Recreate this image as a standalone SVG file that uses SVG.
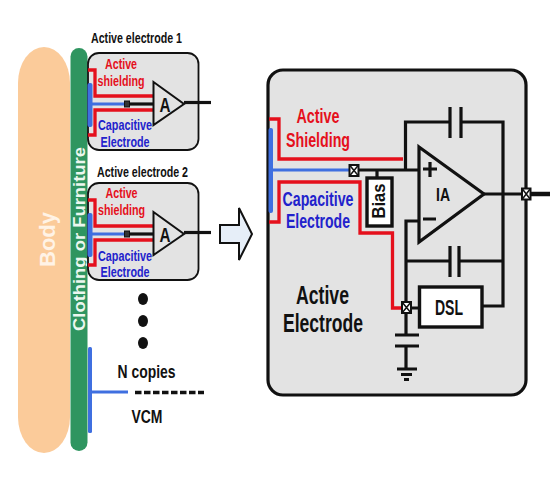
<svg xmlns="http://www.w3.org/2000/svg" width="555" height="481" viewBox="0 0 555 481">
<style>
text{font-family:"Liberation Sans",Arial,sans-serif;font-weight:700;text-anchor:middle}
.box{fill:#e3e3e3;stroke:#111;stroke-width:1.8}
.main{fill:#e3e3e3;stroke:#111;stroke-width:3.2}
.r{fill:none;stroke:#e5101c;stroke-width:3.300}
.b{fill:none;stroke:#3f6fe0;stroke-width:3.200}
.k{fill:none;stroke:#111;stroke-width:3.200}
.tr{fill:#e3e3e3;stroke:#111;stroke-width:2}
.red{fill:#e5101c}
.blue{fill:#2222cc}
.blk{fill:#111}
.xb{fill:#fff;stroke:#111;stroke-width:2}
.w{fill:#fff;stroke:#111;stroke-width:3.400}
</style>
<defs>
<g id="elec">
<rect class="box" x="88" y="0" width="110.500" height="97" rx="11"/>
<rect x="87.500" y="30" width="5" height="44" rx="2" fill="#3f6fe0"/>
<path class="r" d="M88 17H95V43H154M88 82H95V57H154"/>
<path class="b" d="M90 51H127"/>
<path class="k" d="M128 51H154"/>
<rect x="124.500" y="48" width="5" height="6" fill="#333" stroke="#111"/>
<path class="tr" d="M153.500 29L184 51L153.500 72Z"/>
<path class="k" d="M184 49.500H211" stroke-width="3.500"/>
<text class="blk" x="165" y="59" font-size="21" textLength="11" lengthAdjust="spacingAndGlyphs">A</text>
</g>
</defs>
<g id="body"><rect x="18" y="47" width="52" height="406" rx="26" ry="36" fill="#fbcb9a"/><text transform="translate(55 239.500) rotate(-90)" font-size="22" fill="#fff3e6" textLength="55" lengthAdjust="spacingAndGlyphs">Body</text></g>
<g id="clothing"><rect x="70.500" y="48" width="17" height="403" rx="8.500" fill="#2f9560"/><text transform="translate(84.500 239) rotate(-90)" font-size="17" fill="#ecf7ef" textLength="184" lengthAdjust="spacingAndGlyphs">Clothing or Furniture</text></g>
<g id="electrode-1">
<text class="blk" x="136.500" y="43" font-size="15" textLength="91" lengthAdjust="spacingAndGlyphs">Active electrode 1</text>
<use href="#elec" y="53"/>
<text class="red" x="121" y="69" font-size="15" textLength="32" lengthAdjust="spacingAndGlyphs">Active</text>
<text class="red" x="121" y="86" font-size="15" textLength="47" lengthAdjust="spacingAndGlyphs">shielding</text>
<text class="blue" x="125" y="130" font-size="15" textLength="54" lengthAdjust="spacingAndGlyphs">Capacitive</text>
<text class="blue" x="125" y="147" font-size="15" textLength="49" lengthAdjust="spacingAndGlyphs">Electrode</text>
</g>
<g id="electrode-2">
<text class="blk" x="142.500" y="177" font-size="15" textLength="91" lengthAdjust="spacingAndGlyphs">Active electrode 2</text>
<use href="#elec" y="183"/>
<text class="red" x="121.500" y="198" font-size="15" textLength="32" lengthAdjust="spacingAndGlyphs">Active</text>
<text class="red" x="121.500" y="215" font-size="15" textLength="47" lengthAdjust="spacingAndGlyphs">shielding</text>
<text class="blue" x="125" y="261" font-size="15" textLength="54" lengthAdjust="spacingAndGlyphs">Capacitive</text>
<text class="blue" x="125" y="277" font-size="15" textLength="49" lengthAdjust="spacingAndGlyphs">Electrode</text>
</g>
<g id="dots" class="blk"><ellipse cx="143" cy="299" rx="5" ry="6"/><ellipse cx="143" cy="321" rx="5" ry="6"/><ellipse cx="143" cy="343" rx="5" ry="6"/></g>
<g id="n-copies">
<text class="blk" x="146.500" y="378" font-size="19" textLength="58" lengthAdjust="spacingAndGlyphs">N copies</text>
<text class="blk" x="147" y="422.500" font-size="19" textLength="31" lengthAdjust="spacingAndGlyphs">VCM</text>
<rect x="88" y="347" width="4" height="86" rx="1.500" fill="#3f6fe0"/>
<path class="b" d="M90 392H128"/>
<path d="M135 392.500H204" fill="none" stroke="#111" stroke-width="3.500" stroke-dasharray="6.500 2.500"/>
</g>
<g id="arrow"><path d="M220 225H239V208L252 234L239 260V243H220Z" fill="#e6eef8" stroke="#111" stroke-width="2"/></g>
<g id="active-electrode">
<rect class="main" x="268" y="70" width="258" height="325" rx="15"/>
<rect x="268.500" y="128" width="4.500" height="85" rx="2" fill="#3f6fe0"/>
</g>
<g id="connectors">
<path class="r" d="M269 119H279V159H403M269 222H279V182H360V233H392.500V308H403"/>
<path class="b" d="M273 170H350"/>
<path class="k" d="M357 170H419M405.500 170V122H450M461 122H503V306H482M377 170V179M419 221H406V335M406 346V368M450 261H406M459 261H503M406 308H420M484 194H522"/>
<path d="M530 194H550" stroke="#111" stroke-width="4.500" fill="none"/>
<path class="k" d="M450 107V138M461 107V138M450 246V277M459 246V277M395 335H419M395 346H419"/>
<path class="k" d="M397 369H417M401 374.500H412M404 379.500H409"/>
</g>
<g id="ia"><path d="M419 147L484 194L419 242Z" fill="#e3e3e3" stroke="#111" stroke-width="3.200"/>
<text class="blk" x="443" y="201" font-size="18" textLength="14" lengthAdjust="spacingAndGlyphs">IA</text>
<path d="M423 169H437M430 162V177M423 219H436" stroke="#111" stroke-width="3.200" fill="none"/>
</g>
<g id="bias"><rect class="w" x="367" y="178" width="25" height="48"/><text transform="translate(385 201) rotate(-90)" class="blk" font-size="18" textLength="35" lengthAdjust="spacingAndGlyphs">Bias</text></g>
<g id="dsl"><rect class="w" x="419.500" y="287" width="62.500" height="40"/><text class="blk" x="449" y="315" font-size="22" textLength="28" lengthAdjust="spacingAndGlyphs">DSL</text></g>
<g id="junctions">
<g id="j1"><rect class="xb" x="349.500" y="165" width="9" height="11"/><path d="M349.500 165L358.500 176M358.500 165L349.500 176" stroke="#111" stroke-width="1.500"/></g>
<g id="j2"><rect class="xb" x="402" y="302" width="9" height="11"/><path d="M402 302L411 313M411 302L402 313" stroke="#111" stroke-width="1.500"/></g>
<g id="j3"><rect class="xb" x="522" y="188.500" width="8.500" height="11"/><path d="M522 188.500L530.500 199.500M530.500 188.500L522 199.500" stroke="#111" stroke-width="1.500"/></g>
</g>
<g id="labels">
<text class="red" x="318" y="123" font-size="21" textLength="43" lengthAdjust="spacingAndGlyphs">Active</text>
<text class="red" x="318" y="147" font-size="21" textLength="64" lengthAdjust="spacingAndGlyphs">Shielding</text>
<text class="blue" x="318" y="206" font-size="21" textLength="71" lengthAdjust="spacingAndGlyphs">Capacitive</text>
<text class="blue" x="318" y="228" font-size="21" textLength="64" lengthAdjust="spacingAndGlyphs">Electrode</text>
<text class="blk" x="322.500" y="304" font-size="26" textLength="53" lengthAdjust="spacingAndGlyphs">Active</text>
<text class="blk" x="323" y="332" font-size="26" textLength="80" lengthAdjust="spacingAndGlyphs">Electrode</text>
</g>
</svg>
